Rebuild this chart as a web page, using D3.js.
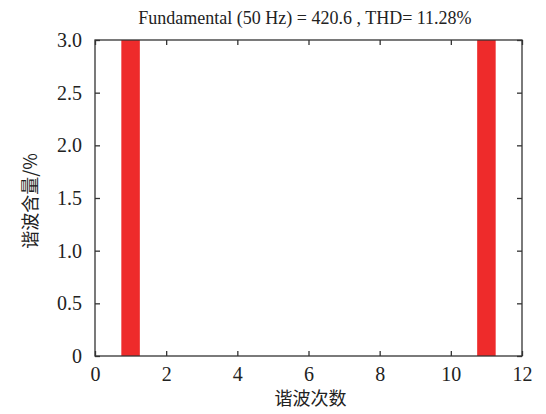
<!DOCTYPE html>
<html>
<head>
<meta charset="utf-8">
<script src="https://cdn.jsdelivr.net/npm/d3@7"></script>
<style>
  body { margin: 0; background: #fff; }
</style>
</head>
<body>
<div id="chart"></div>
<script>
// harmonic order and content (%), bars run off the top of the plot
var orders = [1, 11];
var contents = [100, 11.28];
var xTicks = [0, 2, 4, 6, 8, 10, 12];
var yTicks = [0, 0.5, 1.0, 1.5, 2.0, 2.5, 3.0];
var title = "Fundamental (50 Hz) = 420.6 , THD= 11.28%";

var serif = "'Liberation Serif', 'DejaVu Serif', 'Times New Roman', serif";
var cjk = "'Noto Sans CJK SC', 'Noto Sans CJK JP', sans-serif";

var margin = { top: 40, left: 95, right: 24, bottom: 58 },
	width = 546 - margin.left - margin.right,
	height = 414 - margin.top - margin.bottom;

var svg = d3.select("#chart")
	.append("svg")
	.attr("width", 546)
	.attr("height", 414);

var g = svg.append("g")
	.attr("transform", "translate(" + margin.left + "," + margin.top + ")");

var xScale = d3.scaleLinear().domain([0, 12]).range([0, width]);
var yScale = d3.scaleLinear().domain([0, 3]).range([height, 0]);

g.append("clipPath").attr("id", "clip")
	.append("rect").attr("width", width).attr("height", height);

var barW = xScale(0.52) - xScale(0);
g.append("g").attr("clip-path", "url(#clip)")
	.selectAll("rect")
	.data(orders)
	.enter()
	.append("rect")
	.attr("x", function(d) { return xScale(d) - barW / 2; })
	.attr("width", barW)
	.attr("y", function(d, i) { return yScale(contents[i]); })
	.attr("height", function(d, i) { return height - yScale(contents[i]); })
	.attr("fill", "#ee2b2b");

// frame
g.append("rect")
	.attr("width", width).attr("height", height)
	.attr("fill", "none").attr("stroke", "#333").attr("stroke-width", 1.3);

var fmtY = function(d) { return d === 0 ? "0" : d3.format(".1f")(d); };

var xAxis = g.append("g").attr("transform", "translate(0," + height + ")")
	.call(d3.axisBottom(xScale).tickValues(xTicks).tickSize(-5).tickPadding(11).tickFormat(d3.format("d")));
var xTop = g.append("g")
	.call(d3.axisTop(xScale).tickValues(xTicks).tickSize(-5).tickFormat(""));
var yAxis = g.append("g")
	.call(d3.axisLeft(yScale).tickValues(yTicks).tickSize(-5).tickPadding(13).tickFormat(fmtY));
var yRight = g.append("g").attr("transform", "translate(" + width + ",0)")
	.call(d3.axisRight(yScale).tickValues(yTicks).tickSize(-5).tickFormat(""));

[xAxis, xTop, yAxis, yRight].forEach(function(a) {
	a.select(".domain").remove();
	a.selectAll("line").attr("stroke", "#333").attr("stroke-width", 1.3);
	a.selectAll("text").style("font-size", "20px").style("font-family", serif).style("fill", "#222");
});
xAxis.selectAll("text").attr("dy", "0.71em");

svg.append("text")
	.attr("x", 305).attr("y", 24)
	.attr("text-anchor", "middle")
	.style("font-size", "18px").style("font-family", serif).style("fill", "#222")
	.text(title);

svg.append("text")
	.attr("x", margin.left + width / 2 + 2).attr("y", 405)
	.attr("text-anchor", "middle")
	.style("font-size", "18px").style("font-family", cjk).style("fill", "#222")
	.text("谐波次数");

svg.append("text")
	.attr("transform", "translate(37," + (margin.top + height / 2 + 3) + ") rotate(-90)")
	.attr("text-anchor", "middle")
	.style("font-size", "18px").style("font-family", cjk).style("fill", "#222")
	.text("谐波含量/%");
</script>
</body>
</html>
